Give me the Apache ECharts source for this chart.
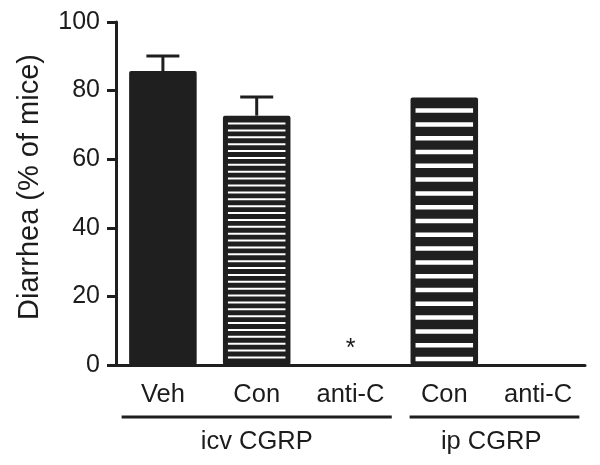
<!DOCTYPE html>
<html><head><meta charset="utf-8">
<script src="https://cdn.jsdelivr.net/npm/echarts@6/dist/echarts.min.js"></script>
<style>html,body{margin:0;padding:0;background:#fff}#c{width:600px;height:465px}</style>
</head><body><div id="c"></div>
<script>
// ---- data ----
const categories = ['Veh', 'Con', 'anti-C', 'Con', 'anti-C'];
const values = [85.7, 72.7, 0, 78, 0];
const errors = [4.4, 5.4, 0, 0, 0];
const marks = ['', '', '*', '', ''];
const groupNames = ['icv CGRP', 'ip CGRP'];
const groupRanges = [[0, 2], [3, 4]];
const yTicks = [0, 20, 40, 60, 80, 100];
const yTitle = 'Diarrhea (% of mice)';

// ---- styles ----
const fills = ['solid', 'fine', 'none', 'coarse', 'none'];
const INK = '#1f1f1f';
const TXT = '#1c1c1c';
const FONT = '"Liberation Sans", Arial, Helvetica, sans-serif';
const stripeStyle = {
  fine: { period: 6.88, thick: 2, bottom: 7.5 },
  coarse: { period: 13.8, thick: 4.5, bottom: 6 }
};

function renderItem(params, api) {
  const i = api.value(0), v = api.value(1), e = api.value(2);
  const top = api.coord([i, v]);
  const base = api.coord([i, 0]);
  const bw = api.size([1, 0])[0] * 0.72;
  const x0 = top[0] - bw / 2;
  const h = base[1] - top[1];
  const children = [];
  const kind = fills[i];
  if (v > 0) {
    children.push({ type: 'rect', shape: { x: x0, y: top[1], width: bw, height: h, r: 2 }, style: { fill: INK } });
    const st = stripeStyle[kind];
    if (st) {
      for (let y = base[1] - st.bottom; y - st.thick / 2 >= top[1] + 5; y -= st.period) {
        children.push({ type: 'rect', shape: { x: x0 + 5, y: y - st.thick / 2, width: bw - 10, height: st.thick }, style: { fill: '#fff' } });
      }
    }
    if (e > 0) {
      const et = api.coord([i, v + e]);
      children.push({ type: 'line', shape: { x1: top[0], y1: top[1], x2: top[0], y2: et[1] }, style: { stroke: INK, lineWidth: 3 } });
      children.push({ type: 'line', shape: { x1: top[0] - 16.5, y1: et[1], x2: top[0] + 16.5, y2: et[1] }, style: { stroke: INK, lineWidth: 3 } });
    }
  }
  const m = marks[i];
  if (m) {
    children.push({ type: 'text', x: base[0], y: base[1] - 16, style: { text: m, fill: TXT, font: '25px ' + FONT, align: 'center', verticalAlign: 'middle' } });
  }
  return { type: 'group', children };
}

const chart = echarts.init(document.getElementById('c'), null, { renderer: 'canvas' });
chart.setOption({
  animation: false,
  backgroundColor: '#fff',
  grid: { left: 116, right: 15, top: 22, bottom: 100, containLabel: false },
  xAxis: {
    type: 'category',
    data: categories,
    axisLine: { lineStyle: { color: INK, width: 3 } },
    axisTick: { alignWithLabel: true, length: 8, lineStyle: { color: INK, width: 3 } },
    axisLabel: { fontSize: 25.5, color: TXT, fontFamily: FONT, margin: 17, interval: 0 },
    splitLine: { show: false }
  },
  yAxis: {
    type: 'value',
    min: yTicks[0], max: yTicks[yTicks.length - 1], interval: 20,
    axisLine: { show: true, lineStyle: { color: INK, width: 3 } },
    axisTick: { show: true, length: 9, lineStyle: { color: INK, width: 3 } },
    axisLabel: { fontSize: 25, color: TXT, fontFamily: FONT, margin: 16 },
    splitLine: { show: false }
  },
  series: [{
    type: 'custom',
    renderItem: renderItem,
    encode: { x: 0, y: 1 },
    data: categories.map((c, i) => [i, values[i], errors[i]])
  }]
});

function drawAnnotations() {
  const cx = i => chart.convertToPixel({ xAxisIndex: 0 }, i);
  const bw = cx(1) - cx(0);
  const elements = [];
  groupRanges.forEach((r, g) => {
    const padL = g === 0 ? 0.44 : 0.37;
    const x1 = cx(r[0]) - padL * bw;
    const x2 = cx(r[1]) + 0.44 * bw;
    elements.push({ type: 'line', shape: { x1: x1, y1: 417, x2: x2, y2: 417 }, style: { stroke: INK, lineWidth: 3 } });
    elements.push({ type: 'text', x: (cx(r[0]) + cx(r[1])) / 2, y: 442, style: { text: groupNames[g], fill: TXT, font: '25.5px ' + FONT, align: 'center', verticalAlign: 'middle' } });
  });
  elements.push({ type: 'text', x: 30, y: 187, rotation: Math.PI / 2, style: { text: yTitle, fill: TXT, font: '29px ' + FONT, align: 'center', verticalAlign: 'middle' } });
  chart.setOption({ graphic: { elements: elements } });
}
drawAnnotations();
</script>
</body></html>
